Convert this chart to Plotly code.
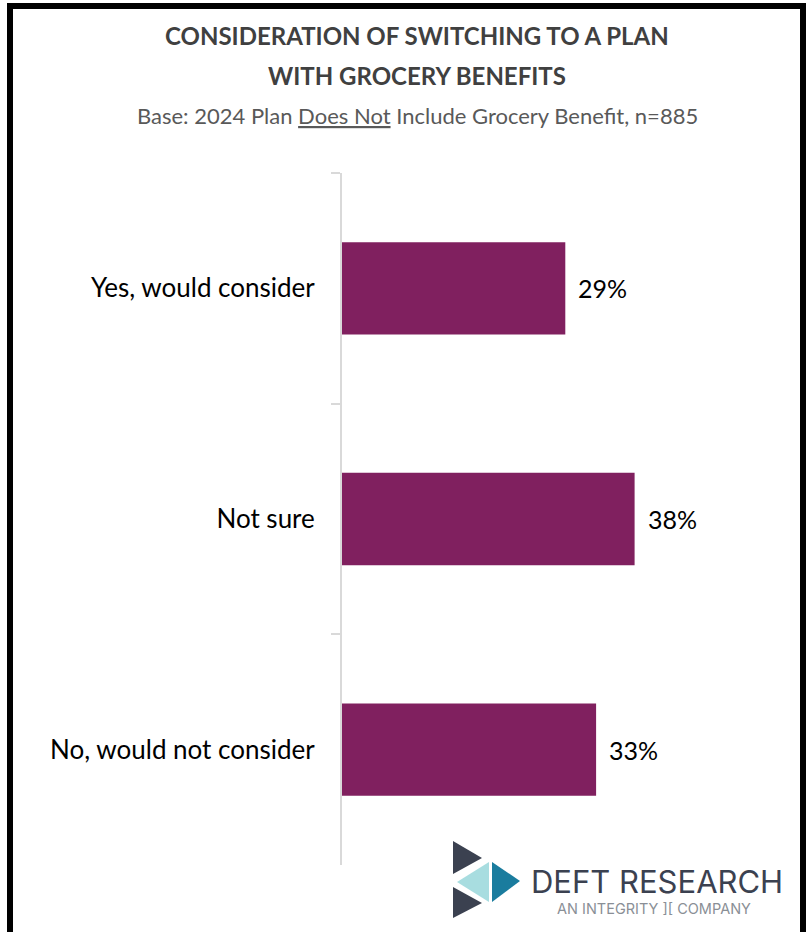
import plotly.graph_objects as go

categories = ["Yes, would consider", "Not sure", "No, would not consider"]
values = [29, 38, 33]
value_labels = ["29%", "38%", "33%"]

title_line1 = "CONSIDERATION OF SWITCHING TO A PLAN"
title_line2 = "WITH GROCERY BENEFITS"
subtitle = "Base: 2024 Plan <u>Does Not</u> Include Grocery Benefit, n=885"

BAR = "#80205F"
FONT = "Lato"

W, H = 807, 932
ML, MR, MT, MB = 342, 80, 173, 67
PW, PH = W - ML - MR, H - MT - MB

def px(x):
    return (x - ML) / PW

def py(y):
    return (H - MB - y) / PH

fig = go.Figure()
fig.add_trace(go.Bar(
    x=values, y=categories, orientation="h",
    marker=dict(color=BAR, line=dict(width=0)),
    width=0.4, hoverinfo="skip",
))

for v, lab, c in zip(values, value_labels, categories):
    fig.add_annotation(x=v, y=c, xref="x", yref="y", text=lab, showarrow=False,
                       xanchor="left", yanchor="middle", xshift=11,
                       font=dict(family=FONT, size=25, color="#000000"))

# titles
fig.add_annotation(x=px(417), y=py(35), xref="paper", yref="paper", text="<b>" + title_line1 + "</b>",
                   showarrow=False, xanchor="center", yanchor="middle",
                   font=dict(family=FONT, size=24, color="#404040"))
fig.add_annotation(x=px(417), y=py(76), xref="paper", yref="paper", text="<b>" + title_line2 + "</b>",
                   showarrow=False, xanchor="center", yanchor="middle",
                   font=dict(family=FONT, size=24, color="#404040"))
fig.add_annotation(x=px(417), y=py(115), xref="paper", yref="paper", text=subtitle,
                   showarrow=False, xanchor="center", yanchor="middle",
                   font=dict(family=FONT, size=22, color="#595959"))

# border frame
fig.add_shape(type="rect", xref="paper", yref="paper", x0=px(10), x1=px(803), y0=py(945), y1=py(6),
              line=dict(color="#000000", width=6), fillcolor="rgba(0,0,0,0)", layer="above")

# logo triangles
def tri(pts, color):
    path = "M " + " L ".join(f"{px(a)},{py(b)}" for a, b in pts) + " Z"
    fig.add_shape(type="path", xref="paper", yref="paper", path=path,
                  fillcolor=color, line=dict(width=0))

tri([(453, 841), (482, 858), (453, 874)], "#3B4150")
tri([(489, 862), (489, 902), (457, 882)], "#A8DDE0")
tri([(492, 862), (520, 881), (492, 902)], "#1A7C9E")
tri([(453, 887), (482, 903), (453, 918)], "#3B4150")

fig.add_annotation(x=px(529), y=py(881), xref="paper", yref="paper", text="DEFT RESEARCH",
                   showarrow=False, xanchor="left", yanchor="middle",
                   font=dict(family="Inter", size=31, color="#3B4150"))
fig.add_annotation(x=px(654), y=py(908), xref="paper", yref="paper", text="AN INTEGRITY ][ COMPANY",
                   showarrow=False, xanchor="center", yanchor="middle",
                   font=dict(family="Inter", size=14.5, color="#8A8F96"))

fig.update_layout(
    width=W, height=H,
    margin=dict(l=ML, r=MR, t=MT, b=MB),
    paper_bgcolor="white", plot_bgcolor="white",
    showlegend=False,
    bargap=0.6,
)
fig.update_xaxes(range=[0, 50], visible=False, showgrid=False, zeroline=False)
fig.update_yaxes(
    categoryorder="array", categoryarray=categories, autorange="reversed",
    showline=True, linecolor="#D9D9D9", linewidth=2,
    ticks="outside", tickson="boundaries", ticklen=9, tickcolor="#D9D9D9", tickwidth=2,
    tickfont=dict(family=FONT, size=26, color="#000000"),
    ticklabelstandoff=20, showgrid=False, zeroline=False,
)

fig.write_html("out.html", config={"displayModeBar": False},
               post_script="document.body.style.margin='0';document.body.style.overflow='hidden';")
